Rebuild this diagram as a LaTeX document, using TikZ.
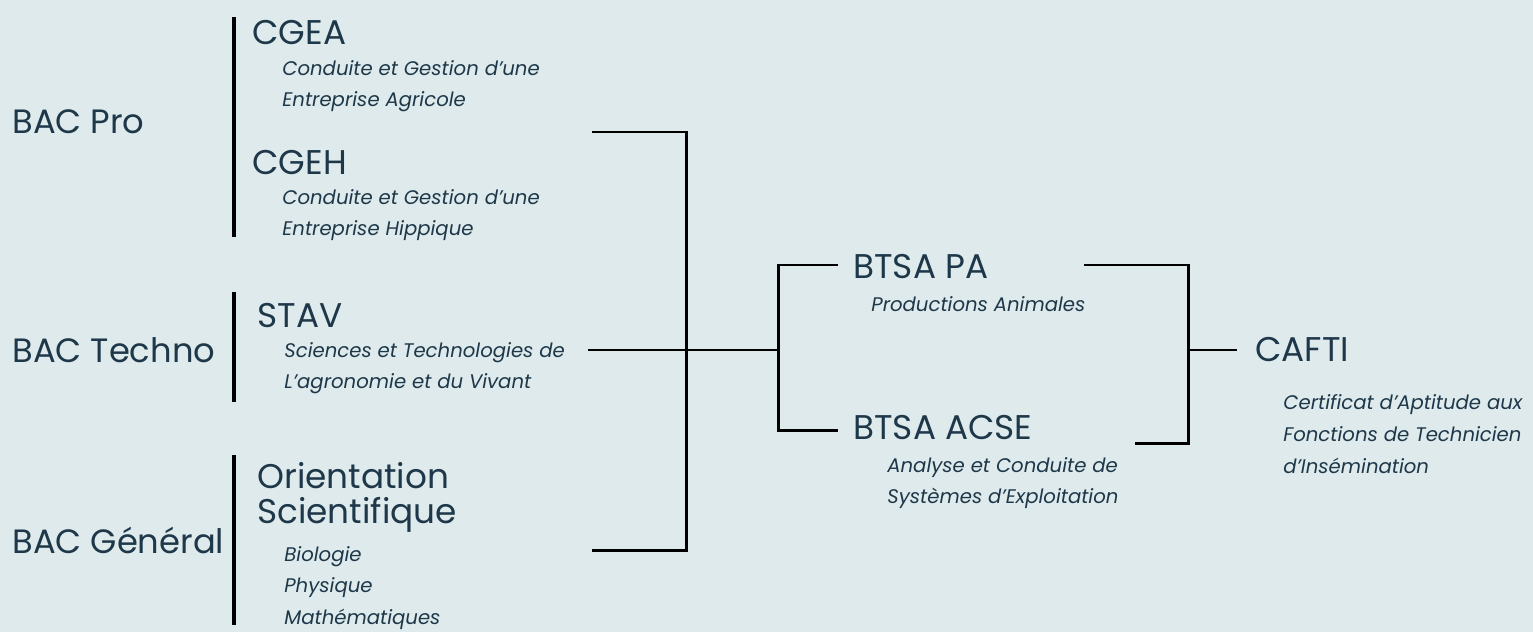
\documentclass[tikz,border=0pt]{standalone}
\usepackage{fontspec}
\setmainfont{Poppins}
\definecolor{bgmint}{RGB}{222,234,235}
\definecolor{inkblue}{RGB}{30,56,74}
\usepackage{tikz}
\usetikzlibrary{positioning}

\begin{document}
\begin{tikzpicture}[
  x=0.02cm, y=-0.02cm,
  bac/.style={anchor=west, inner sep=0pt, text=inkblue, font=\fontsize{19.2}{24}\selectfont},
  title/.style={bac, align=left, font=\fontsize{19.5}{20}\selectfont},
  sub/.style={anchor=west, inner sep=0pt, text=inkblue, align=left, font=\fontsize{11.2}{18}\selectfont\itshape},
  bar/.style={line width=2pt, black},
  link/.style={line width=1.7pt, black}
]
  % Background
  \fill[bgmint] (0,0) rectangle (1533,632);
  \useasboundingbox (0,0) rectangle (1533,632);

  % Bac column
  \node[bac] (pro) at (12,122) {BAC Pro};
  \node[bac] (techno) at (12,350) {BAC Techno};
  \node[bac] (general) at (12,540) {BAC Général};

  % Bars
  \coordinate (pro-top) at (234,17);
  \coordinate (pro-bot) at (234,237);
  \coordinate (techno-top) at (234,292);
  \coordinate (techno-bot) at (234,402);
  \coordinate (general-top) at (234,455);
  \coordinate (general-bot) at (234,625);
  \draw[bar] (pro-top) -- (pro-bot);
  \draw[bar] (techno-top) -- (techno-bot);
  \draw[bar] (general-top) -- (general-bot);

  % Options
  \node[title] (cgea) at (252,33) {CGEA};
  \node[sub] (cgea-txt) at (282,86) {Conduite et Gestion d'une\\Entreprise Agricole};
  \node[title] (cgeh) at (252,163) {CGEH};
  \node[sub] (cgeh-txt) at (282,215) {Conduite et Gestion d'une\\Entreprise Hippique};
  \node[title] (stav) at (257,316) {STAV};
  \node[sub] (stav-txt) at (284,368) {Sciences et Technologies de\\L'agronomie et du Vivant};
  \node[title] (orient) at (257,497) {Orientation\\Scientifique};
  \node[sub] (orient-txt) at (284,588) {Biologie\\Physique\\Mathématiques};

  % BTSA
  \node[title] (pa) at (853,267) {BTSA PA};
  \node[sub] (pa-txt) at (871,304) {Productions Animales};
  \node[title] (acse) at (853,428) {BTSA ACSE};
  \node[sub] (acse-txt) at (887,483) {Analyse et Conduite de\\Systèmes d'Exploitation};

  % CAFTI
  \node[title] (cafti) at (1255,350) {CAFTI};
  \node[sub] (cafti-txt) at (1283,434) {Certificat d'Aptitude aux\\Fonctions de Technicien\\d'Insémination};

  % Bracket 1
  \coordinate (pro-out) at (592,132);
  \coordinate (techno-out) at (588,350);
  \coordinate (general-out) at (592,550);
  \coordinate (join1) at (686,350);
  \coordinate (split1) at (778,350);
  \coordinate (pa-in) at (838,265);
  \coordinate (acse-in) at (838,430);
  \draw[link] (pro-out) -| (join1) |- (general-out);
  \draw[link] (techno-out) -- (split1);
  \draw[link] (pa-in) -| (split1) |- (acse-in);

  % Bracket 2
  \coordinate (pa-out) at (1084,265);
  \coordinate (acse-out) at (1135,443);
  \coordinate (join2) at (1188,350);
  \coordinate (cafti-in) at (1237,350);
  \draw[link] (pa-out) -| (join2) |- (acse-out);
  \draw[link] (join2) -- (cafti-in);
\end{tikzpicture}
\end{document}
